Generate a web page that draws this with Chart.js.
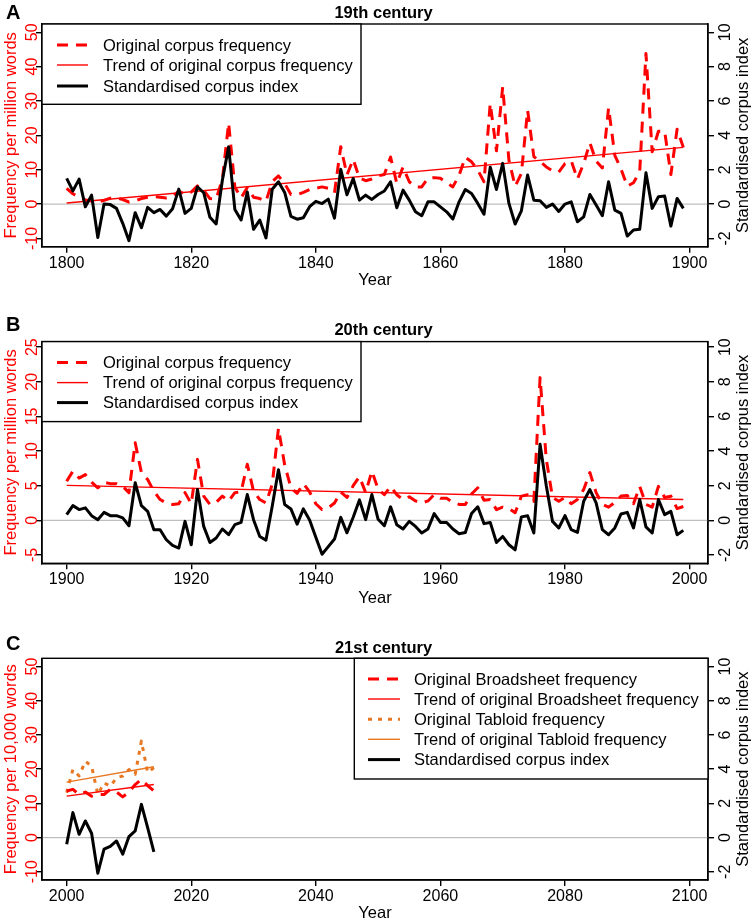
<!DOCTYPE html>
<html><head><meta charset="utf-8">
<script src="https://cdn.jsdelivr.net/npm/chart.js@4.4.1/dist/chart.umd.min.js"></script>
<style>
html,body{margin:0;padding:0;background:#fff;width:754px;height:923px;overflow:hidden;}
canvas{position:absolute;left:0;}
</style></head><body>
<canvas id="cA" width="754" height="300" style="top:0px"></canvas>
<canvas id="cB" width="754" height="317" style="top:300px"></canvas>
<canvas id="cC" width="754" height="306" style="top:617px"></canvas>
<script>
// ---------- DATA ----------
const yearsA = Array.from({length:100},(_,i)=>1800+i);
const freqA = [4.6,3.0,2.0,1.2,0.9,0.5,1.1,1.7,1.8,1.3,
  0.6,0.9,1.6,2.0,2.2,2.0,1.8,2.2,3.8,2.8,
  3.5,5.3,4.0,1.6,1.5,7.2,23.6,5.0,1.8,4.8,
  2.0,1.6,0.8,6.5,8.2,6.0,2.8,2.7,3.4,4.2,
  4.6,5.0,4.6,3.3,16.7,8.5,13.0,7.6,6.8,7.3,
  8.2,8.6,13.7,6.0,10.8,6.5,5.0,5.0,7.5,7.7,
  7.5,6.2,5.0,8.4,13.6,12.3,9.9,6.5,29.3,15.5,
  34.1,12.8,5.2,8.9,27.3,13.8,12.4,10.8,9.7,9.3,
  11.8,12.6,7.3,11.8,17.8,12.5,10.5,28.0,14.2,10.2,
  5.2,6.2,9.5,43.8,15.2,21.2,21.2,8.6,21.8,16.5];
const indexA = [1.5,0.77,1.45,-0.16,0.52,-1.94,0.0,-0.03,-0.25,-1.12,
  -2.13,-0.5,-1.38,-0.19,-0.5,-0.31,-0.7,-0.27,0.87,-0.54,
  -0.25,1.0,0.66,-0.77,-1.16,1.4,3.33,-0.31,-0.93,0.7,
  -1.47,-0.93,-1.97,0.86,1.3,0.68,-0.72,-0.88,-0.8,-0.15,
  0.16,0.03,0.29,-0.82,2.02,0.54,1.49,0.23,0.52,0.27,
  0.56,0.76,1.3,-0.21,0.81,0.23,-0.45,-0.68,0.13,0.13,
  -0.16,-0.45,-0.87,0.13,0.85,0.62,0.04,-0.59,2.15,0.85,
  2.37,0.04,-1.16,-0.39,1.69,0.23,0.2,-0.19,0.0,-0.43,
  0.0,0.13,-1.03,-0.74,0.56,-0.06,-0.68,1.3,-0.35,-0.54,
  -1.86,-1.51,-1.47,1.82,-0.25,0.43,0.47,-1.28,0.33,-0.25];
const trendA = [0.3, 16.5];   // trend value at first and last year

const yearsB = Array.from({length:100},(_,i)=>1900+i);
const freqB = [5.65,7.1,6.1,6.6,5.5,4.7,5.5,5.3,5.3,4.9,
  4.0,11.2,6.9,5.9,4.2,3.0,2.5,2.3,2.4,4.0,
  2.4,8.8,3.5,2.3,2.6,3.5,2.75,4.0,4.1,8.1,
  4.2,3.0,2.5,5.2,13.3,8.0,4.7,3.9,5.3,4.1,
  2.4,1.55,1.8,2.5,4.1,3.3,5.0,6.3,4.0,7.1,
  4.5,3.7,4.9,3.7,3.0,3.4,2.8,2.5,2.8,3.7,
  3.2,3.2,2.6,2.3,2.3,3.8,4.7,2.9,3.0,1.55,
  1.9,1.7,1.1,3.5,3.7,2.75,20.6,8.8,3.3,2.75,
  3.3,2.4,3.0,4.45,6.9,4.0,2.3,1.9,2.6,3.5,
  3.6,2.4,4.9,2.3,1.9,4.9,3.3,3.5,1.7,2.0];
const indexB = [0.33,0.85,0.62,0.72,0.27,0.04,0.46,0.27,0.27,0.14,
  -0.31,2.17,0.85,0.52,-0.54,-0.54,-1.12,-1.45,-1.6,-0.06,
  -1.41,1.78,-0.35,-1.28,-1.02,-0.5,-0.83,-0.25,-0.12,1.49,
  0.04,-0.93,-1.14,0.81,2.92,0.91,0.66,-0.22,0.66,0.02,
  -0.98,-1.96,-1.52,-1.08,0.17,-0.72,0.18,1.18,0.04,1.49,
  0.06,-0.31,0.78,-0.25,-0.5,-0.06,-0.35,-0.73,-0.5,0.39,
  -0.12,-0.12,-0.5,-0.77,-0.7,0.39,0.78,-0.19,-0.12,-1.28,
  -0.93,-1.41,-1.7,0.2,0.27,-0.73,4.39,2.0,-0.06,-0.44,
  0.27,-0.54,-0.7,1.1,1.78,1.01,-0.54,-0.83,-0.44,0.37,
  0.46,-0.44,1.2,-0.38,-0.73,1.2,0.33,0.52,-0.83,-0.58];
const trendB = [5.05, 3.0];

const yearsC = Array.from({length:15},(_,i)=>2000+i);
const broadsheetC = [13.6,14.1,12.6,13.3,12.1,12.6,12.6,14.1,13.3,11.9,13.3,15.5,17.0,15.2,13.6];
const tabloidC = [13.1,19.9,18.0,22.3,20.9,12.6,16.0,15.0,17.5,18.0,19.9,18.5,28.2,19.0,20.4];
const indexC = [-0.39,1.46,0.19,0.97,0.25,-2.08,-0.68,-0.52,-0.2,-0.97,0.06,0.39,1.94,0.58,-0.84];
const trendBroadsheetC = [12.1, 15.5];
const trendTabloidC = [16.2, 20.7];

const xTicksA = [1800,1820,1840,1860,1880,1900];
const xTicksB = [1900,1920,1940,1960,1980,2000];
const xTicksC = [2000,2020,2040,2060,2080,2100];
const leftTicksAC = [-10,0,10,20,30,40,50];
const leftTicksB = [-5,0,5,10,15,20,25];
const rightTicks = [-2,0,2,4,6,8,10];

// ---------- DRAWING ----------
const FONT = '"Liberation Sans", Arial, Helvetica, sans-serif';
const RED = '#FF0000', ORANGE = '#E87722';

function vtext(ctx, txt, x, y, color, font) {
  ctx.save(); ctx.translate(x, y); ctx.rotate(-Math.PI/2);
  ctx.fillStyle = color; ctx.font = font; ctx.textAlign = 'center'; ctx.textBaseline = 'alphabetic';
  ctx.fillText(txt, 0, 0); ctx.restore();
}

const rPanel = {
  id: 'rPanel',
  beforeDatasetsDraw(chart, args, o) {
    const {ctx, chartArea: a, scales} = chart;
    const y0 = scales.yL.getPixelForValue(0);
    ctx.save(); ctx.strokeStyle = '#BEBEBE'; ctx.lineWidth = 1.4;
    ctx.beginPath(); ctx.moveTo(a.left, y0); ctx.lineTo(a.right, y0); ctx.stroke(); ctx.restore();
  },
  afterDraw(chart, args, o) {
    const {ctx, chartArea: a, scales} = chart;
    ctx.save();
    // box
    ctx.strokeStyle = '#000'; ctx.lineWidth = 1.4; ctx.setLineDash([]);
    ctx.strokeRect(a.left, a.top, a.right - a.left, a.bottom - a.top);
    // rotated y tick labels
    const tf = '16px ' + FONT;
    o.leftTicks.forEach(v => vtext(ctx, String(v), 36.5, scales.yL.getPixelForValue(v), RED, tf));
    o.rightTicks.forEach(v => vtext(ctx, String(v), 729.5, scales.yR.getPixelForValue(v), '#000', tf));
    const cy = (a.top + a.bottom) / 2;
    vtext(ctx, o.leftTitle, 15.5, cy, RED, '16.5px ' + FONT);
    vtext(ctx, 'Standardised corpus index', 747.5, cy, '#000', '16.5px ' + FONT);
    // x title
    ctx.fillStyle = '#000'; ctx.font = '16.5px ' + FONT; ctx.textAlign = 'center'; ctx.textBaseline = 'alphabetic';
    ctx.fillText('Year', (a.left + a.right) / 2, o.yearY);
    // main title
    ctx.font = 'bold 16.5px ' + FONT;
    ctx.fillText(o.title, 383.5, o.titleY);
    // panel letter
    ctx.font = 'bold 20px ' + FONT; ctx.textAlign = 'left';
    ctx.fillText(o.letter, 6, o.letterY);
    // legend
    const L = o.legend;
    ctx.fillStyle = '#fff';
    ctx.fillRect(L.x0, a.top, L.x1 - L.x0, L.h);
    ctx.strokeStyle = '#000'; ctx.lineWidth = 1.4;
    ctx.strokeRect(L.x0, a.top, L.x1 - L.x0, L.h);
    L.items.forEach((it, i) => {
      const y = a.top + L.rows[i];
      ctx.save();
      ctx.strokeStyle = it.color; ctx.lineWidth = it.width; ctx.lineCap = 'butt';
      ctx.setLineDash(it.dash || []);
      ctx.beginPath(); ctx.moveTo(L.s0, y); ctx.lineTo(L.s1, y); ctx.stroke();
      ctx.restore();
      ctx.fillStyle = '#000'; ctx.font = '16.5px ' + FONT; ctx.textAlign = 'left'; ctx.textBaseline = 'middle';
      ctx.fillText(it.label, L.tx, y + 1);
    });
    ctx.restore();
  }
};

function pts(years, vals) { return vals.map((v, i) => ({x: years[i], y: v})); }
function trendPts(years, t) { return [{x: years[0], y: t[0]}, {x: years[years.length - 1], y: t[1]}]; }

const DASH = [11, 8], DOT = [4, 6];
const sIndex = {label: 'Standardised corpus index', color: '#000', width: 3};
const sOrig = {label: 'Original corpus frequency', color: RED, width: 3, dash: DASH};
const sTrend = {label: 'Trend of original corpus frequency', color: RED, width: 1.4};

function makePanel(p) {
  const H = document.getElementById(p.id).height;
  const ds = p.series.map(s => ({
    label: s.label, data: s.data, yAxisID: s.axis,
    borderColor: s.color, borderWidth: s.width, borderDash: s.dash || [],
    borderCapStyle: 'butt', borderJoinStyle: 'round',
    pointRadius: 0, tension: 0, fill: false
  }));
  new Chart(document.getElementById(p.id), {
    type: 'line',
    data: {datasets: ds},
    options: {
      responsive: false, animation: false, devicePixelRatio: 1,
      layout: {padding: {top: p.padTop, left: 0, right: 0, bottom: 0}},
      plugins: {legend: {display: false}, tooltip: {enabled: false}, title: {display: false},
        rPanel: p.deco},
      scales: {
        x: {type: 'linear', position: 'bottom', min: p.xMin, max: p.xMax,
          afterBuildTicks: s => { s.ticks = p.xTicks.map(v => ({value: v})); },
          afterFit: s => { s.height = H - p.boxBottom; },
          grid: {display: true, drawOnChartArea: false, drawTicks: true, tickLength: 6, color: '#000', lineWidth: 1.4},
          border: {display: true, color: '#000', width: 1.4},
          ticks: {color: '#000', font: {family: FONT, size: 16}, padding: 1, maxRotation: 0, autoSkip: false,
            callback: v => String(v)}},
        yL: {type: 'linear', position: 'left', min: p.lMin, max: p.lMax,
          afterBuildTicks: s => { s.ticks = p.deco.leftTicks.map(v => ({value: v})); },
          afterFit: s => { s.width = 42; },
          grid: {display: true, drawOnChartArea: false, drawTicks: true, tickLength: 6, color: '#000', lineWidth: 1.4},
          border: {display: true, color: '#000', width: 1.4},
          ticks: {display: false}},
        yR: {type: 'linear', position: 'right', min: p.rMin, max: p.rMax,
          afterBuildTicks: s => { s.ticks = p.deco.rightTicks.map(v => ({value: v})); },
          afterFit: s => { s.width = 46; },
          grid: {display: true, drawOnChartArea: false, drawTicks: true, tickLength: 6, color: '#000', lineWidth: 1.4},
          border: {display: true, color: '#000', width: 1.4},
          ticks: {display: false}}
      }
    },
    plugins: [rPanel]
  });
}

makePanel({
  id: 'cA', padTop: 24, boxBottom: 246.7, xMin: 1796.04, xMax: 1902.96, xTicks: xTicksA,
  lMin: -12.4, lMax: 52.4, rMin: -2.48, rMax: 10.48,
  series: [
    {...sIndex, axis: 'yR', data: pts(yearsA, indexA)},
    {...sOrig, axis: 'yL', data: pts(yearsA, freqA)},
    {...sTrend, axis: 'yL', data: trendPts(yearsA, trendA)}
  ],
  deco: {leftTicks: leftTicksAC, rightTicks: rightTicks, leftTitle: 'Frequency per million words',
    title: '19th century', titleY: 18.3, letter: 'A', letterY: 18.5, yearY: 285,
    legend: {x0: 42, x1: 361, h: 80.3, rows: [21, 41, 62], s0: 57, s1: 88, tx: 103,
      items: [sOrig, sTrend, sIndex]}}
});

makePanel({
  id: 'cB', padTop: 41.6, boxBottom: 263.3, xMin: 1896.04, xMax: 2002.96, xTicks: xTicksB,
  lMin: -6.2, lMax: 25.8, rMin: -2.48, rMax: 10.32,
  series: [
    {...sIndex, axis: 'yR', data: pts(yearsB, indexB)},
    {...sOrig, axis: 'yL', data: pts(yearsB, freqB)},
    {...sTrend, axis: 'yL', data: trendPts(yearsB, trendB)}
  ],
  deco: {leftTicks: leftTicksB, rightTicks: rightTicks, leftTitle: 'Frequency per million words',
    title: '20th century', titleY: 35, letter: 'B', letterY: 30.5, yearY: 303.3,
    legend: {x0: 42, x1: 361, h: 80, rows: [21, 41, 61], s0: 57, s1: 88, tx: 103,
      items: [sOrig, sTrend, sIndex]}}
});

const sBroad = {label: 'Original Broadsheet frequency', color: RED, width: 3, dash: DASH};
const sBroadT = {label: 'Trend of original Broadsheet frequency', color: RED, width: 1.4};
const sTab = {label: 'Original Tabloid frequency', color: ORANGE, width: 3, dash: DOT};
const sTabT = {label: 'Trend of original Tabloid frequency', color: ORANGE, width: 1.4};

makePanel({
  id: 'cC', padTop: 41.3, boxBottom: 263, xMin: 1996.04, xMax: 2102.96, xTicks: xTicksC,
  lMin: -12.4, lMax: 52.4, rMin: -2.48, rMax: 10.48,
  series: [
    {...sIndex, axis: 'yR', data: pts(yearsC, indexC)},
    {...sBroad, axis: 'yL', data: pts(yearsC, broadsheetC)},
    {...sBroadT, axis: 'yL', data: trendPts(yearsC, trendBroadsheetC)},
    {...sTab, axis: 'yL', data: pts(yearsC, tabloidC)},
    {...sTabT, axis: 'yL', data: trendPts(yearsC, trendTabloidC)}
  ],
  deco: {leftTicks: leftTicksAC, rightTicks: rightTicks, leftTitle: 'Frequency per 10,000 words',
    title: '21st century', titleY: 35.7, letter: 'C', letterY: 33, yearY: 301,
    legend: {x0: 354.3, x1: 708, h: 120.7, rows: [20.7, 40.7, 61, 81, 101.3], s0: 368, s1: 400, tx: 414,
      items: [sBroad, sBroadT, sTab, sTabT, sIndex]}}
});
</script>
</body></html>
